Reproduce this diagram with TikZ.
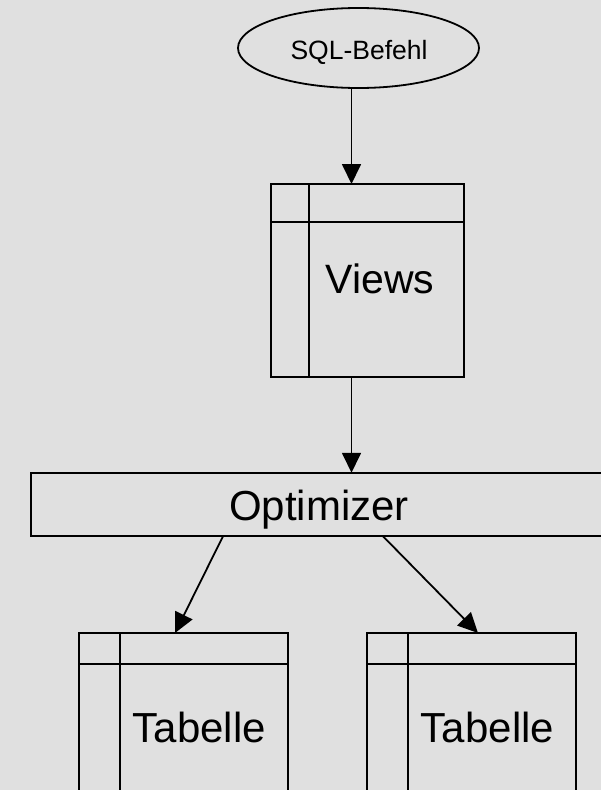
\documentclass[tikz,border=0pt]{standalone}
\usepackage{fontspec}
\setmainfont{Liberation Sans}
\usetikzlibrary{arrows.meta,shapes.geometric}
\definecolor{bgc}{HTML}{E0E0E0}
\newcommand{\fsz}[1]{\fontsize{#1}{1.2\dimexpr#1\relax}\selectfont}
\begin{document}
\begin{tikzpicture}[x=1pt,y=-1pt,
  ln/.style={line width=1.8pt, draw=black},
  arr/.style={line width=1.8pt, draw=black, -{Triangle[length=20pt,width=19pt]}},
  tbl/.style={ln, rectangle, inner sep=0pt, outer sep=0pt},
  lbl/.style={anchor=base, inner sep=0pt, text=black}]
\useasboundingbox (0,0) rectangle (601,790);
\fill[bgc] (0,0) rectangle (601,790);
\clip (0,0) rectangle (601,790);

% query start
\node[ln, ellipse, inner sep=0pt, outer sep=0pt, minimum width=241pt, minimum height=80pt] (sql) at (358.5,48) {};
\node[lbl, font=\fsz{26.5pt}] (sqlT) at (359,59.3) {SQL-Befehl};

% view layer
\node[tbl, minimum width=193pt, minimum height=193pt] (views) at (367.5,280.5) {};
\draw[ln] ([xshift=38pt]views.north west) -- ([xshift=38pt]views.south west);
\draw[ln] ([yshift=-38pt]views.north west) -- ([yshift=-38pt]views.north east);
\node[lbl, font=\fsz{41pt}] (viewsT) at (380,293.3) {Views};

% optimizer
\node[tbl, minimum width=576pt, minimum height=63.5pt] (opt) at (319,504.5) {};
\node[lbl, font=\fsz{42pt}] (optT) at (319,520.7) {Optimizer};

% base tables
\node[tbl, minimum width=208.7pt, minimum height=208pt] (t1) at (183.3,737) {};
\draw[ln] ([xshift=41pt]t1.north west) -- ([xshift=41pt]t1.south west);
\draw[ln] ([yshift=-31pt]t1.north west) -- ([yshift=-31pt]t1.north east);
\node[lbl, font=\fsz{42pt}] (t1T) at (199.4,742.7) {Tabelle};

\node[tbl, minimum width=208.4pt, minimum height=208pt] (t2) at (471.5,737) {};
\draw[ln] ([xshift=41pt]t2.north west) -- ([xshift=41pt]t2.south west);
\draw[ln] ([yshift=-31pt]t2.north west) -- ([yshift=-31pt]t2.north east);
\node[lbl, font=\fsz{42pt}] (t2T) at (487.5,742.7) {Tabelle};

% connectors
\coordinate (ax) at (351.5,0);
\draw[arr] (sql.south -| ax) -- (views.north -| ax);
\draw[arr] (views.south -| ax) -- (opt.north -| ax);
\draw[arr] ([xshift=-96pt]opt.south) -- ([xshift=-8.3pt]t1.north);
\draw[arr] ([xshift=64pt]opt.south) -- ([xshift=6.5pt]t2.north);
\end{tikzpicture}
\end{document}
